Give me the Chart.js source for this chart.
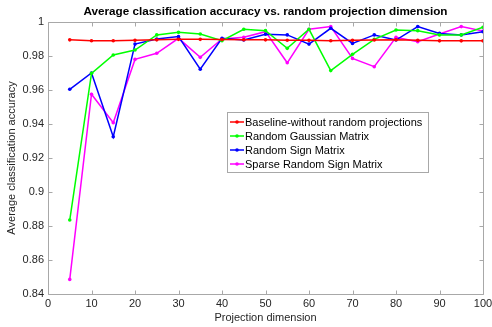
<!DOCTYPE html>
<html>
<head>
<meta charset="utf-8">
<script src="https://cdn.jsdelivr.net/npm/chart.js@4.4.1/dist/chart.umd.min.js"></script>
<style>
  html, body { margin: 0; padding: 0; background: #fff; }
  #wrap { width: 492px; height: 327px; }
</style>
</head>
<body>
<div id="wrap"><canvas id="canvas"></canvas></div>
<script>
// projection dimensions (x)
var dims = [5, 10, 15, 20, 25, 30, 35, 40, 45, 50, 55, 60, 65, 70, 75, 80, 85, 90, 95, 100];

// accuracies
var baseline = [0.9895, 0.9890, 0.9890, 0.9892, 0.9895, 0.9898, 0.9898, 0.9897, 0.9896, 0.9895,
                0.9893, 0.9892, 0.9890, 0.9892, 0.9894, 0.9896, 0.9893, 0.9889, 0.9889, 0.9889];
var gaussian = [0.8835, 0.9698, 0.9806, 0.9835, 0.9924, 0.9939, 0.9929, 0.9890, 0.9957, 0.9949,
                0.9845, 0.9957, 0.9714, 0.9810, 0.9898, 0.9953, 0.9949, 0.9924, 0.9924, 0.9969];
var signMat  = [0.9604, 0.9700, 0.9325, 0.9870, 0.9900, 0.9914, 0.9722, 0.9904, 0.9894, 0.9928,
                0.9924, 0.9870, 0.9963, 0.9874, 0.9924, 0.9894, 0.9973, 0.9933, 0.9924, 0.9943];
var sparse   = [0.8486, 0.9575, 0.9408, 0.9780, 0.9816, 0.9904, 0.9792, 0.9900, 0.9910, 0.9943,
                0.9760, 0.9957, 0.9973, 0.9786, 0.9737, 0.9910, 0.9884, 0.9929, 0.9973, 0.9947];

var seriesNames = ["Baseline-without random projections", "Random Gaussian Matrix",
                   "Random Sign Matrix", "Sparse Random Sign Matrix"];
var chartTitle = 'Average classification accuracy vs. random projection dimension';

function pts(vals) {
	var out = [];
	for (var i = 0; i < dims.length; i++) {
		out.push({x: dims[i], y: vals[i]});
	}
	return out;
}

function makeSet(label, vals, color) {
	return {
		label: label,
		data: pts(vals),
		borderColor: color,
		backgroundColor: color,
		borderWidth: 1.5,
		pointRadius: 1.8,
		pointHoverRadius: 1.8,
		pointBorderWidth: 0,
		tension: 0
	};
}

var FONT = "'Liberation Sans', Arial, sans-serif";

// matlab-style frame with inward ticks, title centred over the axes
var frameTicks = {
	id: 'frameTicks',
	afterDraw: function(chart) {
		var ctx = chart.ctx, a = chart.chartArea;
		var sx = chart.scales.x, sy = chart.scales.y;
		var l = Math.round(a.left) + 0.5, r = Math.round(a.right) + 0.5;
		var t = Math.round(a.top) + 0.5, b = Math.round(a.bottom) + 0.5;
		ctx.save();
		ctx.strokeStyle = '#a8a8a8';
		ctx.lineWidth = 1;
		ctx.beginPath();
		ctx.rect(l, t, r - l, b - t);
		sx.ticks.forEach(function(tk) {
			var px = Math.round(sx.getPixelForValue(tk.value)) + 0.5;
			ctx.moveTo(px, b); ctx.lineTo(px, b - 4);
			ctx.moveTo(px, t); ctx.lineTo(px, t + 4);
		});
		sy.ticks.forEach(function(tk) {
			var py = Math.round(sy.getPixelForValue(tk.value)) + 0.5;
			ctx.moveTo(l, py); ctx.lineTo(l + 4, py);
			ctx.moveTo(r, py); ctx.lineTo(r - 4, py);
		});
		ctx.stroke();

		ctx.fillStyle = '#000';
		ctx.font = 'bold 11.7px ' + FONT;
		ctx.textAlign = 'center';
		ctx.textBaseline = 'middle';
		ctx.fillText(chartTitle, (a.left + a.right) / 2, 12);
		ctx.restore();
	}
};

// legend drawn inside the axes
var boxLegend = {
	id: 'boxLegend',
	afterDraw: function(chart, args, opts) {
		var ctx = chart.ctx;
		var x = opts.x, y = opts.y, w = opts.w, rowH = opts.rowH;
		var sets = chart.data.datasets;
		var h = rowH * sets.length + 4;
		ctx.save();
		ctx.fillStyle = '#fff';
		ctx.fillRect(x, y, w, h);
		ctx.strokeStyle = '#a8a8a8';
		ctx.lineWidth = 1;
		ctx.strokeRect(x + 0.5, y + 0.5, w, h);
		ctx.font = '11px ' + FONT;
		ctx.textBaseline = 'middle';
		for (var i = 0; i < sets.length; i++) {
			var cy = y + 3 + rowH * i + rowH / 2;
			ctx.strokeStyle = sets[i].borderColor;
			ctx.fillStyle = sets[i].borderColor;
			ctx.lineWidth = 1.5;
			ctx.beginPath();
			ctx.moveTo(x + 3, cy); ctx.lineTo(x + 17, cy);
			ctx.stroke();
			ctx.beginPath();
			ctx.arc(x + 10, cy, 1.8, 0, Math.PI * 2);
			ctx.fill();
			ctx.fillStyle = '#000';
			ctx.fillText(sets[i].label, x + 18, cy + 0.5);
		}
		ctx.restore();
	}
};

window.onload = function() {
	var ctx = document.getElementById('canvas');
	window.myLine = new Chart(ctx, {
		type: 'line',
		data: {
			datasets: [
				makeSet(seriesNames[0], baseline, '#ff0000'),
				makeSet(seriesNames[1], gaussian, '#00ff00'),
				makeSet(seriesNames[2], signMat, '#0000ff'),
				makeSet(seriesNames[3], sparse, '#ff00ff')
			]
		},
		options: {
			responsive: true,
			maintainAspectRatio: false,
			animation: false,
			layout: { padding: { left: 0, right: 0, top: 22, bottom: 0 } },
			plugins: {
				legend: { display: false },
				tooltip: { enabled: false },
				title: { display: false },
				boxLegend: { x: 227, y: 112, w: 201, rowH: 14 }
			},
			scales: {
				x: {
					type: 'linear',
					min: 0,
					max: 100,
					ticks: {
						stepSize: 10,
						color: '#262626',
						font: { family: FONT, size: 11 },
						padding: 3,
						maxRotation: 0
					},
					grid: { display: false, drawTicks: false },
					border: { display: false },
					title: {
						display: true,
						text: 'Projection dimension',
						color: '#262626',
						font: { family: FONT, size: 11 },
						padding: { top: 0, bottom: 2 }
					},
					afterFit: function(s) {
						s.height = 33;
						s.paddingLeft = 0;
						s.paddingRight = 9;
					}
				},
				y: {
					min: 0.84,
					max: 1,
					ticks: {
						stepSize: 0.02,
						color: '#262626',
						font: { family: FONT, size: 11 },
						padding: 4,
						callback: function(v) { return +v.toFixed(2); }
					},
					grid: { display: false, drawTicks: false },
					border: { display: false },
					title: {
						display: true,
						text: 'Average classification accuracy',
						color: '#262626',
						font: { family: FONT, size: 11 },
						padding: { top: 5, bottom: 0 }
					},
					afterFit: function(s) { s.width = 48; }
				}
			}
		},
		plugins: [frameTicks, boxLegend]
	});
};
</script>
</body>
</html>
